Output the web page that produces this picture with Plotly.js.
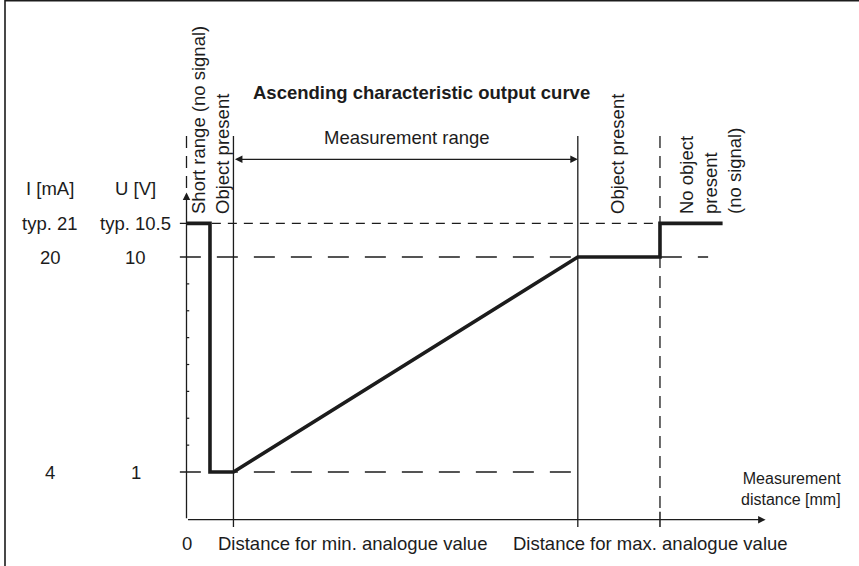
<!DOCTYPE html>
<html><head><meta charset="utf-8">
<script src="https://cdn.plot.ly/plotly-3.0.1.min.js"></script>
<style>html,body{margin:0;padding:0;background:#fff;}</style>
</head><body><div id="chart" style="width:859px;height:566px;"></div>
<script>
// ---------------- data (schematic characteristic) ----------------
// measurement distance in schematic units (0 = sensor, 100 = distance for max. analogue value)
const curveX = [0, 6, 6, 12, 100, 121, 121, 137];
// output current in mA (the "typ. 21" level is drawn schematically higher, at 22.5)
const curveI = [22.5, 22.5, 4, 4, 20, 20, 22.5, 22.5];

const levelI        = [4, 20, 22.5];
const levelLabelI   = ['4', '20', 'typ. 21'];
const levelLabelU   = ['1', '10', 'typ. 10.5'];
const levelLineEndX = [100, 133.3, 136.3];
const levelDash     = ['21px,16px', '21px,16px', '9px,7px'];

const minorTickI = [6, 8, 10, 12, 14, 16, 18];

const boundaryX    = [0, 12, 100, 121];          // short range | min | max | no object
const boundaryDash = ['12px,8px', 'solid', 'solid', '12px,8px'];

const xTickLabels = ['0', 'Distance for min. analogue value', 'Distance for max. analogue value'];
const columnHeads = ['I [mA]', 'U [V]'];
const zoneLabels  = ['Short range (no signal)', 'Object present', 'Object present', 'No object<br>present<br>(no signal)'];

// ---------------- diagram geometry (axis extents) ----------------
const yOrigin = 0.45, yAxisTop = 24.8, xAxisEnd = 148, yBoundTop = 29, yTickBottom = -0.1;
const xLevelStart = -1.7, yRangeArrow = 27.27;

const W = 859, H = 566;
const PX = p => p / W, PY = p => 1 - p / H;
const INK = '#1c1c1c';
const FONT = {family: 'Liberation Sans, Arial, sans-serif', size: 18.5, color: INK};

const shapes = [];
// outer frame (left + top edges)
shapes.push({type: 'path', xref: 'paper', yref: 'paper', path: `M ${PX(5)},0 L ${PX(5)},${PY(0.8)} L 1,${PY(0.8)}`,
  line: {color: INK, width: 1.6}});
// dashed level lines
levelI.forEach((v, i) => shapes.push({type: 'line', xref: 'x', yref: 'y', layer: 'below',
  x0: xLevelStart, x1: levelLineEndX[i], y0: v, y1: v, line: {color: INK, width: 1.3, dash: levelDash[i]}}));
// boundary lines
boundaryX.forEach((x, i) => {
  const bottom = i === 0 ? yAxisTop : (boundaryDash[i] === 'solid' ? yTickBottom : yOrigin + 0.6);
  shapes.push({type: 'line', xref: 'x', yref: 'y', layer: 'below', x0: x, x1: x, y0: yBoundTop, y1: bottom,
    line: {color: INK, width: 1.3, dash: boundaryDash[i]}});
  if (i === 3) shapes.push({type: 'line', xref: 'x', yref: 'y', x0: x, x1: x, y0: yOrigin + 0.6, y1: yTickBottom,
    line: {color: INK, width: 1.5}});
});
// minor ticks on the current axis
minorTickI.forEach(v => shapes.push({type: 'line', xref: 'x', yref: 'y', x0: 0, x1: 0.7, y0: v, y1: v,
  line: {color: INK, width: 1.2}}));

const annotations = [];
const arrow = (x, y, ax, ay, both) => ({x, y, ax, ay, xref: 'x', yref: 'y', axref: 'x', ayref: 'y', text: '',
  showarrow: true, arrowhead: 2, startarrowhead: 2, arrowside: both ? 'end+start' : 'end',
  arrowsize: 1.15, startarrowsize: 1.15, arrowwidth: 1.3, arrowcolor: INK, standoff: 0, startstandoff: 0});
annotations.push(arrow(0, yAxisTop, 0, yOrigin));           // current axis
annotations.push(arrow(xAxisEnd, yOrigin, 0, yOrigin));     // distance axis
annotations.push(arrow(boundaryX[2], yRangeArrow, boundaryX[1], yRangeArrow, true)); // measurement range

const txt = (text, x, y, opt) => Object.assign({text, x, y, xref: 'paper', yref: 'paper', showarrow: false,
  xanchor: 'center', yanchor: 'middle', font: FONT}, opt || {});

annotations.push(txt('<b>Ascending characteristic output curve</b>', PX(421), PY(92)));
annotations.push(txt('Measurement range', PX(407), PY(138)));
annotations.push(txt(columnHeads[0], PX(50), PY(189)));
annotations.push(txt(columnHeads[1], PX(135), PY(189)));
levelI.forEach((v, i) => {
  annotations.push(txt(levelLabelI[i], PX(50), v, {yref: 'y'}));
  annotations.push(txt(levelLabelU[i], PX(135.5), v, {yref: 'y'}));
});
annotations.push(txt(xTickLabels[0], PX(186.5), PY(543)));
annotations.push(txt(xTickLabels[1], PX(352), PY(543)));
annotations.push(txt(xTickLabels[2], PX(650), PY(543)));
annotations.push(txt('Measurement<br>distance [mm]', PX(843), PY(489), {xanchor: 'right', align: 'right',
  font: Object.assign({}, FONT, {size: 16})}));

const rot = {textangle: -90, yanchor: 'bottom', align: 'left'};
annotations.push(txt(zoneLabels[0], PX(198), PY(216), rot));
annotations.push(txt(zoneLabels[1], PX(222), PY(216), rot));
annotations.push(txt(zoneLabels[2], PX(617), PY(216), rot));
annotations.push(txt(zoneLabels[3], PX(710), PY(216), rot));

const traces = [{x: curveX, y: curveI, type: 'scatter', mode: 'lines',
  line: {color: INK, width: 3.6, shape: 'linear'}, hoverinfo: 'skip', showlegend: false}];

const layout = {
  width: W, height: H, margin: {l: 0, r: 0, t: 0, b: 0},
  paper_bgcolor: '#fff', plot_bgcolor: '#fff', showlegend: false,
  xaxis: {range: [-47.66, 171.86], visible: false, fixedrange: true},
  yaxis: {range: [-2.995, 39.126], visible: false, fixedrange: true},
  shapes, annotations, font: FONT
};
Plotly.newPlot('chart', traces, layout, {staticPlot: true});
</script></body></html>
